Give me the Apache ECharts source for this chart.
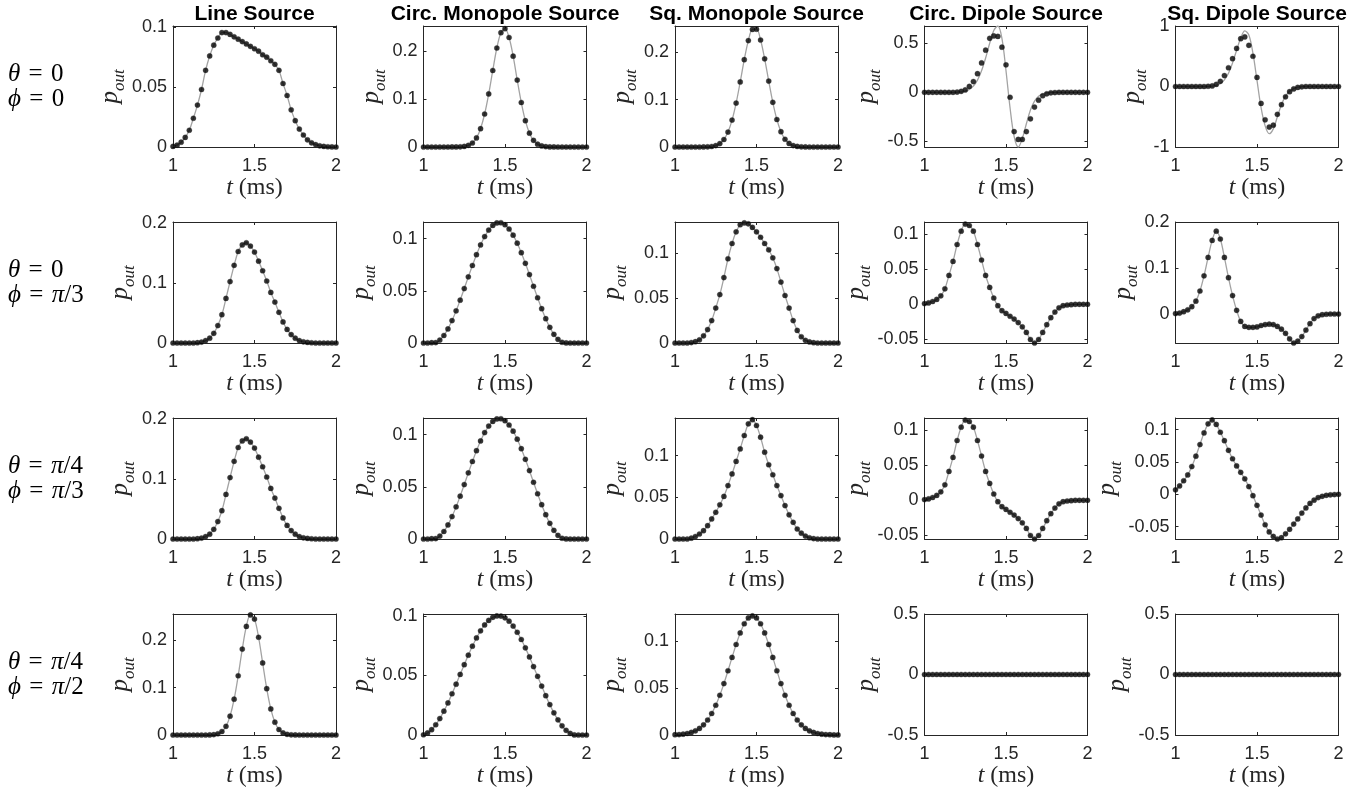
<!DOCTYPE html>
<html><head><meta charset="utf-8"><title>p_out</title>
<script src="https://cdn.jsdelivr.net/npm/echarts@6.0.0/dist/echarts.min.js"></script>
<style>html,body{margin:0;padding:0;background:#fff;}#chart{width:1370px;height:789px;}</style>
</head><body><div id="chart"></div>
<script>
// ---------------- data ----------------
const times = [1.000,1.025,1.050,1.075,1.100,1.125,1.150,1.175,1.200,1.225,1.250,1.275,1.300,1.325,1.350,1.375,1.400,1.425,1.450,1.475,1.500,1.525,1.550,1.575,1.600,1.625,1.650,1.675,1.700,1.725,1.750,1.775,1.800,1.825,1.850,1.875,1.900,1.925,1.950,1.975,2.000];

const colTitles = ['Line Source','Circ. Monopole Source','Sq. Monopole Source','Circ. Dipole Source','Sq. Dipole Source'];
const rowThetaText = ['{i|θ}{r|\u2004=\u20040}','{i|θ}{r|\u2004=\u20040}','{i|θ}{r|\u2004=\u2004}{i|π}{r|/4}','{i|θ}{r|\u2004=\u2004}{i|π}{r|/4}'];
const rowPhiText = ['{i|ϕ}{r|\u2004=\u20040}','{i|ϕ}{r|\u2004=\u2004}{i|π}{r|/3}','{i|ϕ}{r|\u2004=\u2004}{i|π}{r|/3}','{i|ϕ}{r|\u2004=\u2004}{i|π}{r|/2}'];

const xTicks = [1, 1.5, 2];
const ticks005 = [0, 0.05, 0.1];
const ticks01 = [0, 0.1, 0.2];
const ticksDip05 = [-0.5, 0, 0.5];
const ticksDip1 = [-1, 0, 1];
const ticksNeg005 = [-0.05, 0, 0.05, 0.1];

// Row 1: theta=0, phi=0
const lineSrc_r1 = [0.0005,0.0015,0.004,0.008,0.014,0.024,0.035,0.048,0.064,0.076,0.085,0.091,0.0955,0.0955,0.094,0.092,0.090,0.088,0.086,0.084,0.082,0.080,0.077,0.075,0.072,0.069,0.064,0.053,0.043,0.031,0.022,0.015,0.010,0.006,0.0035,0.002,0.001,0.0005,0.0002,0.0001,0];
const circMono_r1 = [0,0,0,0,0,0,0,0.0001,0.0001,0.0004,0.0012,0.0034,0.0084,0.019,0.0383,0.069,0.111,0.160,0.207,0.239,0.2475,0.229,0.190,0.140,0.093,0.055,0.029,0.0139,0.0059,0.0023,0.0008,0.0002,0.0001,0,0,0,0,0,0,0,0];
const sqMono_r1 = [0,0,0,0,0,0,0,0.0001,0.0004,0.0011,0.003,0.0073,0.0159,0.0316,0.0569,0.0929,0.1376,0.1848,0.2251,0.2487,0.2492,0.2264,0.1866,0.1395,0.0946,0.0582,0.0324,0.0164,0.0075,0.0031,0.0012,0.0004,0.0001,0,0,0,0,0,0,0,0];
const circDip_r1_line = [0,0,0,0,0,0,0,0,0.001,0.004,0.012,0.03,0.065,0.125,0.22,0.35,0.5,0.63,0.676,0.55,0.22,-0.16,-0.45,-0.557,-0.47,-0.32,-0.18,-0.09,-0.04,-0.015,-0.005,-0.001,0,0,0,0,0,0,0,0,0];
const circDip_r1_dots = [0,0,0,0,0,0,0,0,0.003,0.01,0.025,0.06,0.11,0.19,0.3,0.43,0.55,0.575,0.57,0.46,0.28,-0.05,-0.4,-0.48,-0.48,-0.4,-0.27,-0.15,-0.08,-0.035,-0.015,-0.005,-0.002,0,0,0,0,0,0,0,0];
const sqDip_r1_line = [0,0,0,0,0,0,0,0,0.002,0.006,0.02,0.05,0.11,0.22,0.39,0.6,0.8,0.92,0.85,0.55,0.1,-0.35,-0.65,-0.78,-0.7,-0.5,-0.3,-0.16,-0.08,-0.035,-0.012,-0.004,0,0,0,0,0,0,0,0,0];
const sqDip_r1_dots = [0,0,0,0,0,0,0,0,0.004,0.01,0.035,0.085,0.18,0.31,0.46,0.63,0.79,0.82,0.68,0.5,0.15,-0.28,-0.55,-0.67,-0.64,-0.46,-0.3,-0.17,-0.085,-0.04,-0.015,-0.005,0,0,0,0,0,0,0,0,0];

// Rows 2 and 3 (line source, circ. monopole, circ. dipole look identical in both rows)
const lineSrc_r23 = [0,0,0,0,0,0,0.0005,0.0015,0.004,0.008,0.016,0.029,0.047,0.074,0.102,0.129,0.152,0.163,0.1665,0.161,0.151,0.136,0.120,0.103,0.084,0.068,0.051,0.035,0.0225,0.014,0.008,0.004,0.002,0.001,0.0004,0,0,0,0,0,0];
const circMono_r23 = [0,0,0.0003,0.0004,0.0028,0.0072,0.0135,0.0215,0.0308,0.0411,0.0522,0.0634,0.0743,0.0847,0.0940,0.1020,0.1083,0.1127,0.1151,0.1153,0.1134,0.1093,0.1034,0.0957,0.0866,0.0764,0.0656,0.0544,0.0434,0.0329,0.0233,0.0150,0.0083,0.0035,0.0007,0.0001,0,0,0,0,0];
const sqMono_r2 = [0,0,0,0,0.0005,0.0015,0.0035,0.008,0.015,0.025,0.039,0.054,0.073,0.094,0.111,0.124,0.132,0.134,0.133,0.129,0.124,0.118,0.111,0.104,0.095,0.083,0.068,0.053,0.039,0.025,0.014,0.007,0.003,0.0012,0.0004,0,0,0,0,0,0];
const circDip_r23 = [0.001,0.002,0.004,0.007,0.012,0.022,0.041,0.061,0.085,0.104,0.114,0.112,0.104,0.085,0.063,0.041,0.024,0.009,-0.002,-0.009,-0.013,-0.017,-0.021,-0.026,-0.032,-0.040,-0.050,-0.055,-0.050,-0.040,-0.029,-0.019,-0.011,-0.005,-0.002,-0.001,-0.0005,0,0,0,0];
const sqDip_r2 = [0.001,0.002,0.005,0.009,0.016,0.028,0.05,0.083,0.123,0.160,0.180,0.163,0.123,0.079,0.040,0.008,-0.016,-0.027,-0.029,-0.029,-0.028,-0.025,-0.023,-0.022,-0.023,-0.027,-0.033,-0.042,-0.054,-0.063,-0.059,-0.049,-0.035,-0.021,-0.01,-0.004,-0.0015,-0.0005,0,0,0];
const sqMono_r3 = [0,0,0,0,0.001,0.003,0.006,0.010,0.016,0.024,0.032,0.041,0.051,0.064,0.078,0.093,0.108,0.124,0.138,0.143,0.136,0.122,0.104,0.089,0.077,0.064,0.052,0.040,0.029,0.020,0.012,0.007,0.0035,0.0015,0.0005,0,0,0,0,0,0];
const sqDip_r3 = [0.007,0.013,0.021,0.030,0.043,0.059,0.077,0.095,0.109,0.115,0.108,0.096,0.083,0.068,0.055,0.044,0.034,0.024,0.012,-0.002,-0.017,-0.032,-0.047,-0.058,-0.065,-0.069,-0.067,-0.061,-0.054,-0.046,-0.038,-0.029,-0.021,-0.014,-0.009,-0.005,-0.003,-0.0015,-0.0008,-0.0003,0];

// Row 4: theta=pi/4, phi=pi/2
const lineSrc_r4 = [0,0,0,0,0,0,0,0,0,0.0002,0.0008,0.0026,0.0074,0.0183,0.0399,0.0757,0.1254,0.1817,0.2298,0.254,0.2452,0.2068,0.1524,0.0981,0.0552,0.0271,0.0116,0.0044,0.0014,0.0004,0.0001,0,0,0,0,0,0,0,0,0,0];
const circMono_r4 = [0.0002,0.0017,0.0045,0.0086,0.0138,0.0200,0.0269,0.0346,0.0426,0.0508,0.0590,0.0670,0.0745,0.0814,0.0874,0.0923,0.0961,0.0987,0.0999,0.0998,0.0983,0.0955,0.0914,0.0862,0.0801,0.0731,0.0655,0.0574,0.0492,0.0410,0.0330,0.0255,0.0186,0.0127,0.0077,0.0039,0.0013,0.0001,0,0,0];
const sqMono_r4 = [0.0003,0.0005,0.0009,0.0016,0.0027,0.0044,0.0070,0.0108,0.0160,0.0229,0.0317,0.0424,0.0548,0.0685,0.0827,0.0965,0.1088,0.1186,0.1248,0.127,0.1248,0.1186,0.1088,0.0965,0.0827,0.0685,0.0548,0.0424,0.0317,0.0229,0.0160,0.0108,0.0070,0.0044,0.0027,0.0016,0.0009,0.0005,0.0003,0.0001,0.0001];
const dip_r4 = [0,0,0,0,0,0,0,0,0,0,0,0,0,0,0,0,0,0,0,0,0,0,0,0,0,0,0,0,0,0,0,0,0,0,0,0,0,0,0,0,0];

// panel table (row-major), built from the arrays above
const panels = [
  {line: lineSrc_r1, dots: lineSrc_r1, min: 0, max: 0.101, ticks: ticks005},
  {line: circMono_r1, dots: circMono_r1, min: 0, max: 0.253, ticks: ticks01},
  {line: sqMono_r1, dots: sqMono_r1, min: 0, max: 0.256, ticks: ticks01},
  {line: circDip_r1_line, dots: circDip_r1_dots, min: -0.557, max: 0.676, ticks: ticksDip05},
  {line: sqDip_r1_line, dots: sqDip_r1_dots, min: -1, max: 1, ticks: ticksDip1},

  {line: lineSrc_r23, dots: lineSrc_r23, min: 0, max: 0.201, ticks: ticks01},
  {line: circMono_r23, dots: circMono_r23, min: 0, max: 0.116, ticks: ticks005},
  {line: sqMono_r2, dots: sqMono_r2, min: 0, max: 0.135, ticks: ticks005},
  {line: circDip_r23, dots: circDip_r23, min: -0.055, max: 0.117, ticks: ticksNeg005},
  {line: sqDip_r2, dots: sqDip_r2, min: -0.063, max: 0.2, ticks: ticks01},

  {line: lineSrc_r23, dots: lineSrc_r23, min: 0, max: 0.201, ticks: ticks01},
  {line: circMono_r23, dots: circMono_r23, min: 0, max: 0.116, ticks: ticks005},
  {line: sqMono_r3, dots: sqMono_r3, min: 0, max: 0.145, ticks: ticks005},
  {line: circDip_r23, dots: circDip_r23, min: -0.055, max: 0.117, ticks: ticksNeg005},
  {line: sqDip_r3, dots: sqDip_r3, min: -0.069, max: 0.118, ticks: ticksNeg005},

  {line: lineSrc_r4, dots: lineSrc_r4, min: 0, max: 0.256, ticks: ticks01},
  {line: circMono_r4, dots: circMono_r4, min: 0, max: 0.1015, ticks: ticks005},
  {line: sqMono_r4, dots: sqMono_r4, min: 0, max: 0.129, ticks: ticks005},
  {line: dip_r4, dots: dip_r4, min: -0.5, max: 0.5, ticks: ticksDip05},
  {line: dip_r4, dots: dip_r4, min: -0.5, max: 0.5, ticks: ticksDip05}
];

// ---------------- layout & style ----------------
const colLeft = [173, 423.5, 675, 924.5, 1175.5];
const rowTop = [26, 222, 418, 614];
const plotW = 163, plotH = 121;
const yNameDist = [[56,46,46,51,36],[46,55,55,60,45],[46,55,55,60,60],[46,55,55,51,51]];
const AX = '#262626';
const SANS = '"Liberation Sans", Arial, Helvetica, sans-serif';
const SERIF = '"Liberation Serif", "DejaVu Serif", serif';
const tickFont = {color: AX, fontSize: 18, fontFamily: SANS};

const grid = [], xAxis = [], yAxis = [], series = [], graphic = [];

panels.forEach((p, k) => {
  const r = Math.floor(k / 5), c = k % 5;
  grid.push({left: colLeft[c], top: rowTop[r], width: plotW, height: plotH});
  const frameLine = {show: true, onZero: false, lineStyle: {color: AX, width: 1}};
  xAxis.push({
    gridIndex: k, type: 'value', min: 1, max: 2, position: 'bottom',
    axisLine: frameLine,
    axisTick: {show: true, inside: true, length: 3, customValues: xTicks, lineStyle: {color: AX}},
    axisLabel: Object.assign({show: true, customValues: xTicks, margin: 10}, tickFont),
    splitLine: {show: false},
    name: '{i|t}{r| (ms)}', nameLocation: 'middle', nameGap: 27,
    nameTextStyle: {color: AX, fontSize: 24, fontFamily: SERIF, rich: {
      i: {fontFamily: SERIF, fontStyle: 'italic', fontSize: 24, color: AX},
      r: {fontFamily: SERIF, fontSize: 24, color: AX}
    }}
  });
  xAxis.push({
    gridIndex: k, type: 'value', min: 1, max: 2, position: 'top',
    axisLine: frameLine,
    axisTick: {show: true, inside: true, length: 3, customValues: xTicks, lineStyle: {color: AX}},
    axisLabel: {show: false}, splitLine: {show: false}
  });
  yAxis.push({
    gridIndex: k, type: 'value', min: p.min, max: p.max, position: 'left',
    axisLine: frameLine,
    axisTick: {show: true, inside: true, length: 3, customValues: p.ticks, lineStyle: {color: AX}},
    axisLabel: Object.assign({show: true, customValues: p.ticks, margin: 6}, tickFont),
    splitLine: {show: false},
    name: '{p|p}{s|out}', nameLocation: 'middle', nameRotate: 90, nameGap: yNameDist[r][c] - 13,
    nameTextStyle: {color: AX, rich: {
      p: {fontFamily: SERIF, fontStyle: 'italic', fontSize: 25, lineHeight: 30, verticalAlign: 'top', color: AX},
      s: {fontFamily: SERIF, fontStyle: 'italic', fontSize: 17, lineHeight: 17, verticalAlign: 'bottom', color: AX}
    }}
  });
  yAxis.push({
    gridIndex: k, type: 'value', min: p.min, max: p.max, position: 'right',
    axisLine: frameLine,
    axisTick: {show: true, inside: true, length: 3, customValues: p.ticks, lineStyle: {color: AX}},
    axisLabel: {show: false}, splitLine: {show: false}
  });
  series.push({
    type: 'line', xAxisIndex: 2 * k, yAxisIndex: 2 * k,
    data: times.map((t, i) => [t, p.line[i]]),
    smooth: 0.35, symbol: 'none', clip: true, z: 2,
    lineStyle: {color: '#a3a3a3', width: 1.3}
  });
  series.push({
    type: 'scatter', xAxisIndex: 2 * k, yAxisIndex: 2 * k,
    data: times.map((t, i) => [t, p.dots[i]]),
    symbol: 'circle', symbolSize: 5.2, clip: true, z: 3,
    itemStyle: {color: '#000', borderColor: '#3a3a3a', borderWidth: 0.4}
  });
});

colTitles.forEach((txt, c) => {
  graphic.push({type: 'text', x: colLeft[c] + plotW / 2, y: 14, style: {
    text: txt, font: 'bold 21px ' + SANS, fill: '#000',
    align: 'center', verticalAlign: 'middle', textAlign: 'center', textVerticalAlign: 'middle'
  }});
});

const labelRich = {
  i: {fontFamily: SERIF, fontStyle: 'italic', fontSize: 25, fill: '#000', color: '#000'},
  r: {fontFamily: SERIF, fontSize: 25, fill: '#000', color: '#000'}
};
rowTop.forEach((top, r) => {
  const cy = top + plotH / 2;
  graphic.push({type: 'text', x: 8, y: cy - 12.5, style: {
    text: rowThetaText[r], rich: labelRich, align: 'left', verticalAlign: 'middle', textAlign: 'left', textVerticalAlign: 'middle'
  }});
  graphic.push({type: 'text', x: 8, y: cy + 12.5, style: {
    text: rowPhiText[r], rich: labelRich, align: 'left', verticalAlign: 'middle', textAlign: 'left', textVerticalAlign: 'middle'
  }});
});

const option = {
  backgroundColor: '#ffffff',
  animation: false,
  grid, xAxis, yAxis, series, graphic
};

const chart = echarts.init(document.getElementById('chart'), null, {renderer: 'canvas'});
chart.setOption(option);
</script></body></html>
